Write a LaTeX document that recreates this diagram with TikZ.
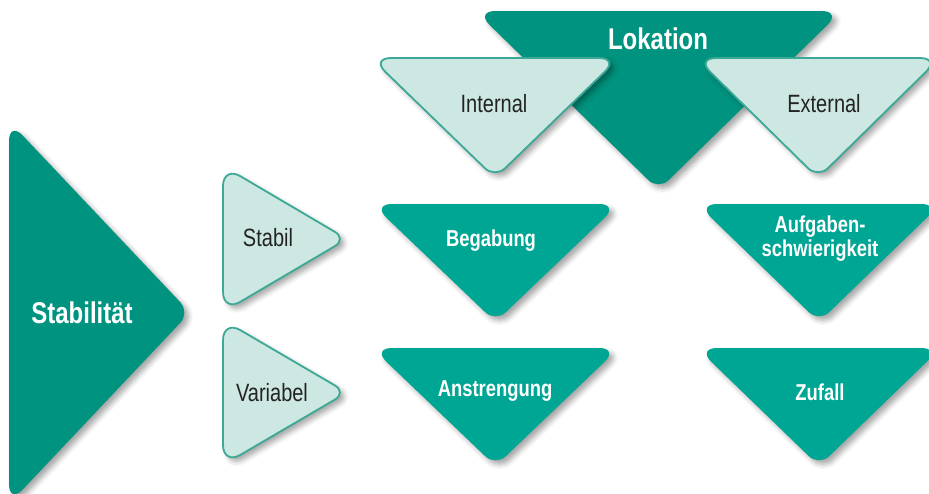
\documentclass[tikz,border=0pt]{standalone}
\usepackage{fontspec}
\setmainfont{Liberation Sans}[FakeStretch=0.8]
\usetikzlibrary{shadows.blur}
\definecolor{tealdark}{RGB}{0,148,128}
\definecolor{tealmid}{RGB}{0,166,148}
\definecolor{teallight}{RGB}{205,232,226}
\definecolor{tealline}{RGB}{60,168,150}
\definecolor{txtdark}{RGB}{35,35,35}
\tikzset{
  tri/.style={rounded corners=20pt, blur shadow={shadow xshift=4pt, shadow yshift=-4pt, shadow blur radius=5pt, shadow opacity=35}},
  darktri/.style={tri, fill=tealdark},
  midtri/.style={tri, fill=tealmid},
  lighttri/.style={tri, fill=teallight, draw=tealline, line width=1.8pt},
  boldlbl/.style={text=white, font=\bfseries\fontsize{23}{24}\selectfont, align=center, inner sep=0pt},
  biglbl/.style={text=white, font=\bfseries\fontsize{30}{32}\selectfont, inner sep=0pt},
  lbl/.style={text=txtdark, font=\fontsize{25}{27}\selectfont, inner sep=0pt},
  tip/.style={rounded corners=14pt},
  base/.style={rounded corners=20pt},
}
\begin{document}
\begin{tikzpicture}[x=1pt,y=-1pt]
\useasboundingbox (0,0) rectangle (929,493);
% paths start mid-edge so every corner is rounded; the option before a segment sets the rounding of the corner it reaches
% Lokation group
\path[darktri] (658.5,11) -- (841.7,11) [tip] -- (658.5,190) [base] -- (475.3,11) -- cycle;
\path[lighttri] (495,58) -- (619,58) [tip] -- (495,178) [base] -- (371,58) -- cycle;
\path[lighttri] (818,58) -- (940,58) [tip] -- (818,178) [base] -- (696,58) -- cycle;
\node[biglbl] (lok) at (658,39) {Lokation};
\node[lbl] (int) at (494,104) {Internal};
\node[lbl] (ext) at (824,104) {External};
% Stabilitaet group
\path[darktri] (9,312.5) -- (9,121) [tip] -- (190,312.5) [base] -- (9,504) -- cycle;
\path[lighttri] (223,239) -- (223,166) [tip] -- (347,239) [base] -- (223,312) -- cycle;
\path[lighttri] (223,392.5) -- (223,320) [tip] -- (347,392.5) [base] -- (223,465) -- cycle;
\node[biglbl] (stab) at (82,313) {Stabilität};
\node[lbl] (stabil) at (268,238) {Stabil};
\node[lbl] (var) at (272,393) {Variabel};
% cells
\path[midtri] (495.5,204) -- (619,204) [tip] -- (495.5,322) [base] -- (372,204) -- cycle;
\path[midtri] (819,204) -- (941,204) [tip] -- (819,322) [base] -- (697,204) -- cycle;
\path[midtri] (495.5,348) -- (619,348) [tip] -- (495.5,466) [base] -- (372,348) -- cycle;
\path[midtri] (819,348) -- (941,348) [tip] -- (819,466) [base] -- (697,348) -- cycle;
\node[boldlbl] (beg) at (491,241) {Begabung};
\node[boldlbl] (auf) at (820,239) {Aufgaben-\\schwierigkeit};
\node[boldlbl] (ans) at (495,391) {Anstrengung};
\node[boldlbl] (zuf) at (820,392) {Zufall};
\end{tikzpicture}
\end{document}
